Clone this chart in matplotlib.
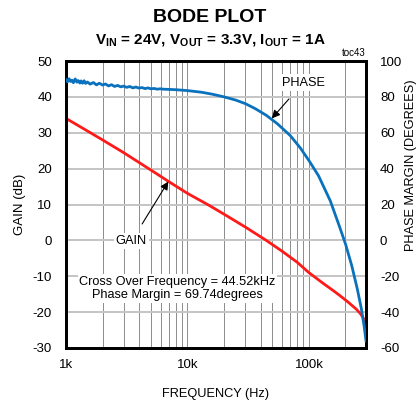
import matplotlib.pyplot as plt
import numpy as np

plt.rcParams['font.family'] = ['Liberation Sans', 'DejaVu Sans']
plt.rcParams['mathtext.fontset'] = 'custom'
plt.rcParams['mathtext.rm'] = 'Liberation Sans'
plt.rcParams['mathtext.bf'] = 'Liberation Sans:bold'
plt.rcParams['axes.unicode_minus'] = False

# loop gain (dB) vs frequency (Hz)
gain_freq = [1000, 1500, 2000, 3000, 5000, 7000, 10000, 15000, 20000,
             30000, 44520, 60000, 80000, 100000, 130000, 160000, 180000,
             210000, 246000, 265000, 280000, 295000]
gain_db = [34.0, 30.5, 28.0, 24.4, 19.6, 16.4, 13.1, 9.8, 7.3,
           3.7, 0.0, -3.0, -6.1, -9.0, -11.9, -14.1, -15.4,
           -17.2, -19.2, -20.4, -21.6, -23.0]

# phase (degrees) vs frequency (Hz), noisy at the low end
phase_freq = [1000, 1030, 1060, 1090, 1120, 1150, 1190, 1230, 1260, 1300,
              1330, 1370, 1410, 1450, 1500, 1580, 1680, 1780, 1880, 2000,
              2110, 2240, 2370, 2510, 2660, 2820, 2990, 3160, 3350, 3550,
              3760, 3980, 4220, 4470, 4730, 5010, 5310, 5620, 5960, 6310,
              8000, 10000, 13000, 16000, 20000, 25000, 30000, 36000, 44520,
              55000, 70000, 85000, 100000, 120000, 150000, 180000, 200000,
              225000, 250000, 270000, 285000, 295000]
phase_deg = [89.6, 88.4, 90.1, 88.6, 89.3, 87.9, 90.0, 88.2, 89.1, 87.7,
             88.9, 87.6, 89.0, 87.5, 88.3, 87.1, 88.0, 86.7, 87.6, 86.6,
             87.2, 86.1, 86.8, 85.8, 86.4, 85.6, 86.0, 85.3, 85.8, 85.0,
             85.5, 84.9, 85.2, 84.6, 85.0, 84.5, 84.7, 84.3, 84.5, 84.3,
             84.0, 83.5, 82.6, 81.5, 80.0, 78.2, 76.2, 73.5, 69.74,
             65.0, 58.5, 51.5, 44.5, 36.0, 22.0, 7.0, -2.0,
             -14.0, -27.0, -38.0, -48.0, -56.0]

crossover_khz = 44.52
phase_margin = 69.74

fig = plt.figure(figsize=(4.2, 4.01), dpi=100)
ax = fig.add_axes([66/420, 1 - 348/401, 300/420, 287/401])
ax2 = ax.twinx()

ax.set_xscale('log')
ax.set_xlim(1000, 295000)
ax.set_ylim(-30, 50)
ax2.set_ylim(-60, 100)
ax.set_yticks(np.arange(-30, 51, 10))
ax2.set_yticks(np.arange(-60, 101, 20))
ax.set_xticks([1000, 10000, 100000])
ax.set_xticklabels(['1k', '10k', '100k'])

ax.grid(True, which='major', axis='y', color='#c4c4c4', lw=1.4)
ax.grid(True, which='both', axis='x', color='#7a7a7a', lw=0.6)
ax.set_axisbelow(True)

for a in (ax, ax2):
    a.tick_params(which='both', length=0, labelsize=9.5)
    for s in a.spines.values():
        s.set_linewidth(2.0)
ax.tick_params(axis='x', pad=8)
ax.tick_params(axis='y', pad=10)
ax2.tick_params(axis='y', pad=10)

ax.plot(gain_freq, gain_db, color='#ff1a1a', lw=2.0, zorder=3)
ax2.plot(phase_freq, phase_deg, color='#0a72bd', lw=2.0, zorder=4)

ax.set_xlabel('FREQUENCY (Hz)', fontsize=9.2, labelpad=12)
ax.set_ylabel('GAIN (dB)', fontsize=9.5, labelpad=5)
fig.text(411/420, 1 - 165/401, 'PHASE MARGIN (DEGREES)', fontsize=9.2,
         rotation=90, ha='center', va='center')

box = dict(facecolor='white', edgecolor='none', pad=1.5)
ax.annotate('GAIN', xy=(6950, 16.4), xytext=(3450, -0.3), fontsize=9.2,
            ha='center', va='center', bbox=box,
            arrowprops=dict(arrowstyle='-|>', color='black', lw=0.8,
                            shrinkA=8, shrinkB=0, mutation_scale=12))
ax2.annotate('PHASE', xy=(49500, 68), xytext=(90000, 88), fontsize=9.2,
             ha='center', va='center', bbox=box,
             arrowprops=dict(arrowstyle='-|>', color='black', lw=0.8,
                             shrinkA=8, shrinkB=0, mutation_scale=12))
ax.text(8300, -13.4,
        f'Cross Over Frequency = {crossover_khz:.2f}kHz\n'
        f'Phase Margin = {phase_margin:.2f}degrees',
        fontsize=9.2, ha='center', va='center', linespacing=1.2,
        bbox=dict(facecolor='white', edgecolor='none', pad=1.0), zorder=5)

ax.text(1.0, 1.012, 'toc43', transform=ax.transAxes, fontsize=7,
        ha='right', va='bottom')

fig.text(0.5, 1 - 18/401, 'BODE PLOT', fontsize=14, fontweight='bold',
         ha='center', va='center')
fig.text(0.5, 1 - 41/401,
         r'V$_{\mathbf{IN}}$ = 24V, V$_{\mathbf{OUT}}$ = 3.3V, '
         r'I$_{\mathbf{OUT}}$ = 1A',
         fontsize=11, fontweight='bold', ha='center', va='center')

fig.savefig('out.png', dpi=100)
